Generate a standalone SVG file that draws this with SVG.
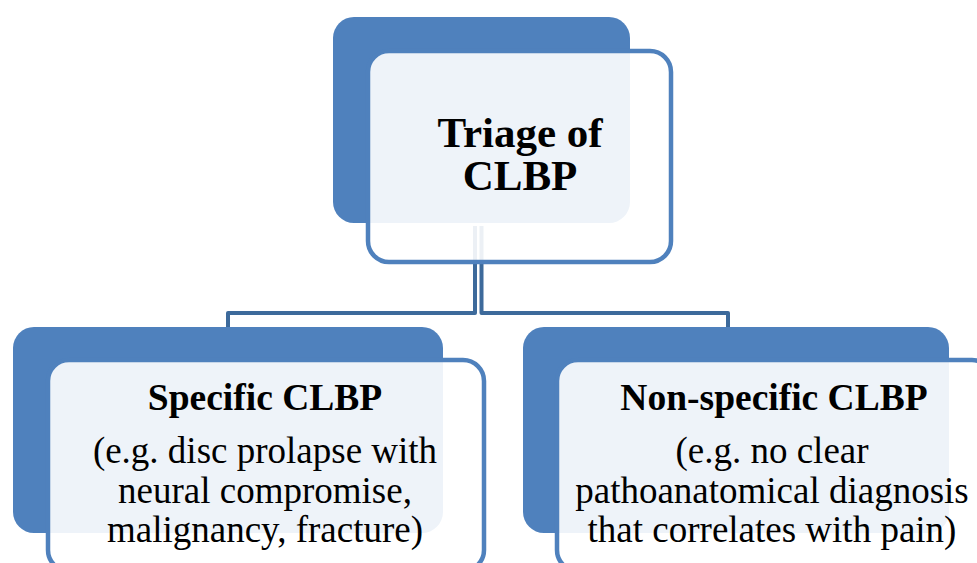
<svg xmlns="http://www.w3.org/2000/svg" width="977" height="563" viewBox="0 0 977 563">
<style>
.back{fill:#4f81bd}
.front{fill:#ffffff;fill-opacity:0.9;stroke:#4f81bd;stroke-width:4.5}
.conn{fill:none;stroke:#3d6a9b;stroke-width:4;stroke-linejoin:round}
.t{font-family:"Liberation Serif","Times New Roman",serif;fill:#000;text-anchor:middle}
.b{font-weight:bold}
</style>
<rect width="977" height="563" fill="#ffffff"/>
<g id="connectors">
<path class="conn" d="M475,226 V313 H228 V327"/>
<path class="conn" d="M481.5,226 V313 H728 V327"/>
</g>
<g id="node-triage">
<rect class="back" x="333" y="17" width="297" height="206" rx="21"/>
<rect class="front" x="368" y="51" width="303" height="211" rx="21"/>
<text class="t b" x="520" y="147" font-size="43">Triage of</text>
<text class="t b" x="520" y="190" font-size="43">CLBP</text>
</g>
<g id="node-specific">
<rect class="back" x="13" y="327" width="430" height="206" rx="21"/>
<rect class="front" x="48" y="360" width="436" height="211" rx="21"/>
<text class="t b" x="265" y="410" font-size="37.5">Specific CLBP</text>
<text class="t" x="265" y="463" font-size="37">(e.g. disc prolapse with</text>
<text class="t" x="265" y="503" font-size="37">neural compromise,</text>
<text class="t" x="265" y="542" font-size="37">malignancy, fracture)</text>
</g>
<g id="node-nonspecific">
<rect class="back" x="523" y="327" width="426" height="206" rx="21"/>
<rect class="front" x="557" y="360" width="436" height="211" rx="21"/>
<text class="t b" x="774" y="410" font-size="37.5">Non-specific CLBP</text>
<text class="t" x="772" y="463" font-size="37">(e.g. no clear</text>
<text class="t" x="772" y="503" font-size="37">pathoanatomical diagnosis</text>
<text class="t" x="772" y="542" font-size="37">that correlates with pain)</text>
</g>
</svg>
